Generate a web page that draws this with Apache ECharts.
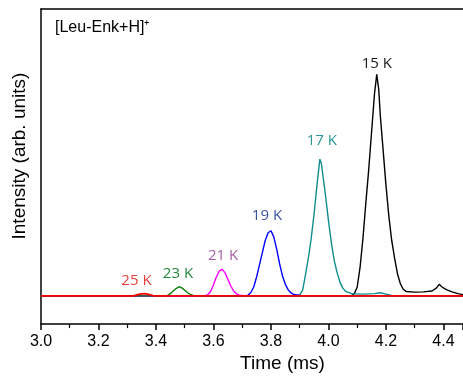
<!DOCTYPE html>
<html>
<head>
<meta charset="utf-8">
<script src="https://cdn.jsdelivr.net/npm/echarts@6/dist/echarts.min.js"></script>
<style>html,body{margin:0;padding:0;background:#fff}#c{width:463px;height:378px}</style>
</head>
<body>
<div id="c"></div>
<script>
// ---- data ----
const xTicks = [3.0, 3.2, 3.4, 3.6, 3.8, 4.0, 4.2, 4.4];
const seriesNames = ['15 K', '17 K', '19 K', '21 K', '23 K', '25 K'];

const t15 = [3.0, 4.08, 4.09, 4.10, 4.11, 4.12, 4.13, 4.14, 4.15, 4.16, 4.168, 4.175, 4.18, 4.19, 4.20, 4.21, 4.22, 4.23, 4.24, 4.25, 4.26, 4.27, 4.30, 4.33, 4.36, 4.375, 4.385, 4.395, 4.41, 4.43, 4.45, 4.47, 4.5];
const v15 = [0, 0, 0.01, 0.04, 0.13, 0.26, 0.42, 0.57, 0.74, 0.91, 1.0, 0.93, 0.82, 0.66, 0.50, 0.36, 0.25, 0.17, 0.10, 0.055, 0.03, 0.02, 0.017, 0.018, 0.022, 0.035, 0.052, 0.04, 0.028, 0.018, 0.01, 0.005, 0.002];

const t17 = [3.0, 3.89, 3.90, 3.91, 3.92, 3.93, 3.94, 3.95, 3.96, 3.97, 3.975, 3.98, 3.99, 4.00, 4.01, 4.02, 4.03, 4.04, 4.05, 4.06, 4.08, 4.12, 4.16, 4.18, 4.20, 4.22, 4.25, 4.5];
const v17 = [0, 0, 0.005, 0.025, 0.095, 0.17, 0.26, 0.37, 0.50, 0.617, 0.60, 0.55, 0.45, 0.34, 0.24, 0.16, 0.105, 0.062, 0.035, 0.02, 0.01, 0.008, 0.01, 0.014, 0.008, 0.002, 0, 0];

const t19 = [3.0, 3.71, 3.72, 3.73, 3.74, 3.75, 3.76, 3.77, 3.78, 3.79, 3.80, 3.81, 3.82, 3.83, 3.84, 3.85, 3.86, 3.87, 3.88, 3.90, 3.95, 4.5];
const v19 = [0, 0, 0.003, 0.015, 0.04, 0.085, 0.14, 0.195, 0.25, 0.285, 0.294, 0.265, 0.21, 0.145, 0.09, 0.052, 0.027, 0.013, 0.006, 0.002, 0, 0];

const t21 = [3.0, 3.57, 3.58, 3.59, 3.60, 3.61, 3.62, 3.63, 3.64, 3.65, 3.66, 3.67, 3.68, 3.69, 3.72, 4.5];
const v21 = [0, 0, 0.005, 0.02, 0.05, 0.085, 0.112, 0.12, 0.105, 0.075, 0.045, 0.022, 0.009, 0.003, 0, 0];

const t23 = [3.0, 3.43, 3.44, 3.45, 3.46, 3.47, 3.48, 3.49, 3.50, 3.51, 3.52, 3.53, 3.55, 4.5];
const v23 = [0, 0, 0.002, 0.01, 0.022, 0.033, 0.041, 0.036, 0.025, 0.014, 0.006, 0.002, 0, 0];

const t25 = [3.0, 3.32, 3.33, 3.34, 3.35, 3.36, 3.37, 3.38, 3.39, 3.40, 4.5];
const v25 = [0, 0, 0.003, 0.007, 0.009, 0.01, 0.008, 0.004, 0.001, 0, 0];

// ---- styles ----
const lineColors = ['#000000', '#0f8d8d', '#0000ff', '#ff00ff', '#0a800a', '#ff0000'];
const labelColors = ['#1a1a1a', '#2e9696', '#3c52a4', '#a560a5', '#23883c', '#ea3f3a'];
const lineWidths = [1.4, 1.4, 1.4, 1.4, 1.4, 1.8];
const labelDist = [3, 11, 7, 6, 6, 5];
const labelDx = [0, 2, -4, 1, -1, -8];

const times = [t15, t17, t19, t21, t23, t25];
const vals = [v15, v17, v19, v21, v23, v25];

const chart = echarts.init(document.getElementById('c'), null, {renderer: 'canvas'});
const series = seriesNames.map((name, i) => ({
  name: name,
  type: 'line',
  data: times[i].map((x, j) => [x, vals[i][j]]),
  showSymbol: false,
  symbol: 'none',
  smooth: false,
  clip: true,
  lineStyle: {color: lineColors[i], width: lineWidths[i]},
  z: 2 + i,
  markPoint: {
    symbol: 'circle',
    symbolSize: 0,
    silent: true,
    data: [{type: 'max', name: name}],
    label: {
      show: true,
      position: 'top',
      distance: labelDist[i],
      offset: [labelDx[i], 0],
      formatter: name,
      color: labelColors[i],
      fontFamily: 'Open Sans',
      fontSize: 15
    }
  }
}));

const xCommon = {
  type: 'value',
  min: 3.0,
  max: 4.468,
  interval: 0.2,
  splitLine: {show: false}
};

chart.setOption({
  animation: false,
  title: {
    text: '[Leu-Enk+H]⁺',
    left: 55,
    top: 20,
    padding: 0,
    textStyle: {fontFamily: 'Liberation Sans', fontSize: 16, fontWeight: 'normal', color: '#000'}
  },
  grid: {left: 41, top: 9, bottom: 51, right: 0, show: false},
  xAxis: [Object.assign({}, xCommon, {
    position: 'bottom',
    name: 'Time (ms)',
    nameLocation: 'middle',
    nameGap: 29,
    nameTextStyle: {fontFamily: 'Liberation Sans', fontSize: 19, color: '#000', padding: [0, 0, 0, 61]},
    axisLine: {show: true, onZero: false, lineStyle: {color: '#000', width: 1.5}},
    axisTick: {show: true, inside: false, length: 6, lineStyle: {color: '#000', width: 1.5}},
    minorTick: {show: true, splitNumber: 2, length: 4, lineStyle: {color: '#000', width: 1.2}},
    axisLabel: {
      fontFamily: 'Liberation Sans', fontSize: 16, color: '#000', margin: 9,
      showMaxLabel: false,
      formatter: v => xTicks.some(t => Math.abs(t - v) < 1e-6) ? v.toFixed(1) : ''
    }
  }), Object.assign({}, xCommon, {
    position: 'top',
    axisLine: {show: true, onZero: false, lineStyle: {color: '#000', width: 1.5}},
    axisTick: {show: false},
    axisLabel: {show: false}
  })],
  yAxis: {
    type: 'value',
    min: -0.1275,
    max: 1.295,
    name: 'Intensity (arb. units)',
    nameLocation: 'middle',
    nameGap: 12,
    nameTextStyle: {fontFamily: 'Liberation Sans', fontSize: 19, color: '#000', padding: [0, 0, 0, 21]},
    axisLine: {show: true, onZero: false, lineStyle: {color: '#000', width: 1.5}},
    axisTick: {show: false},
    axisLabel: {show: false},
    splitLine: {show: false}
  },
  series: series
});
</script>
</body>
</html>
